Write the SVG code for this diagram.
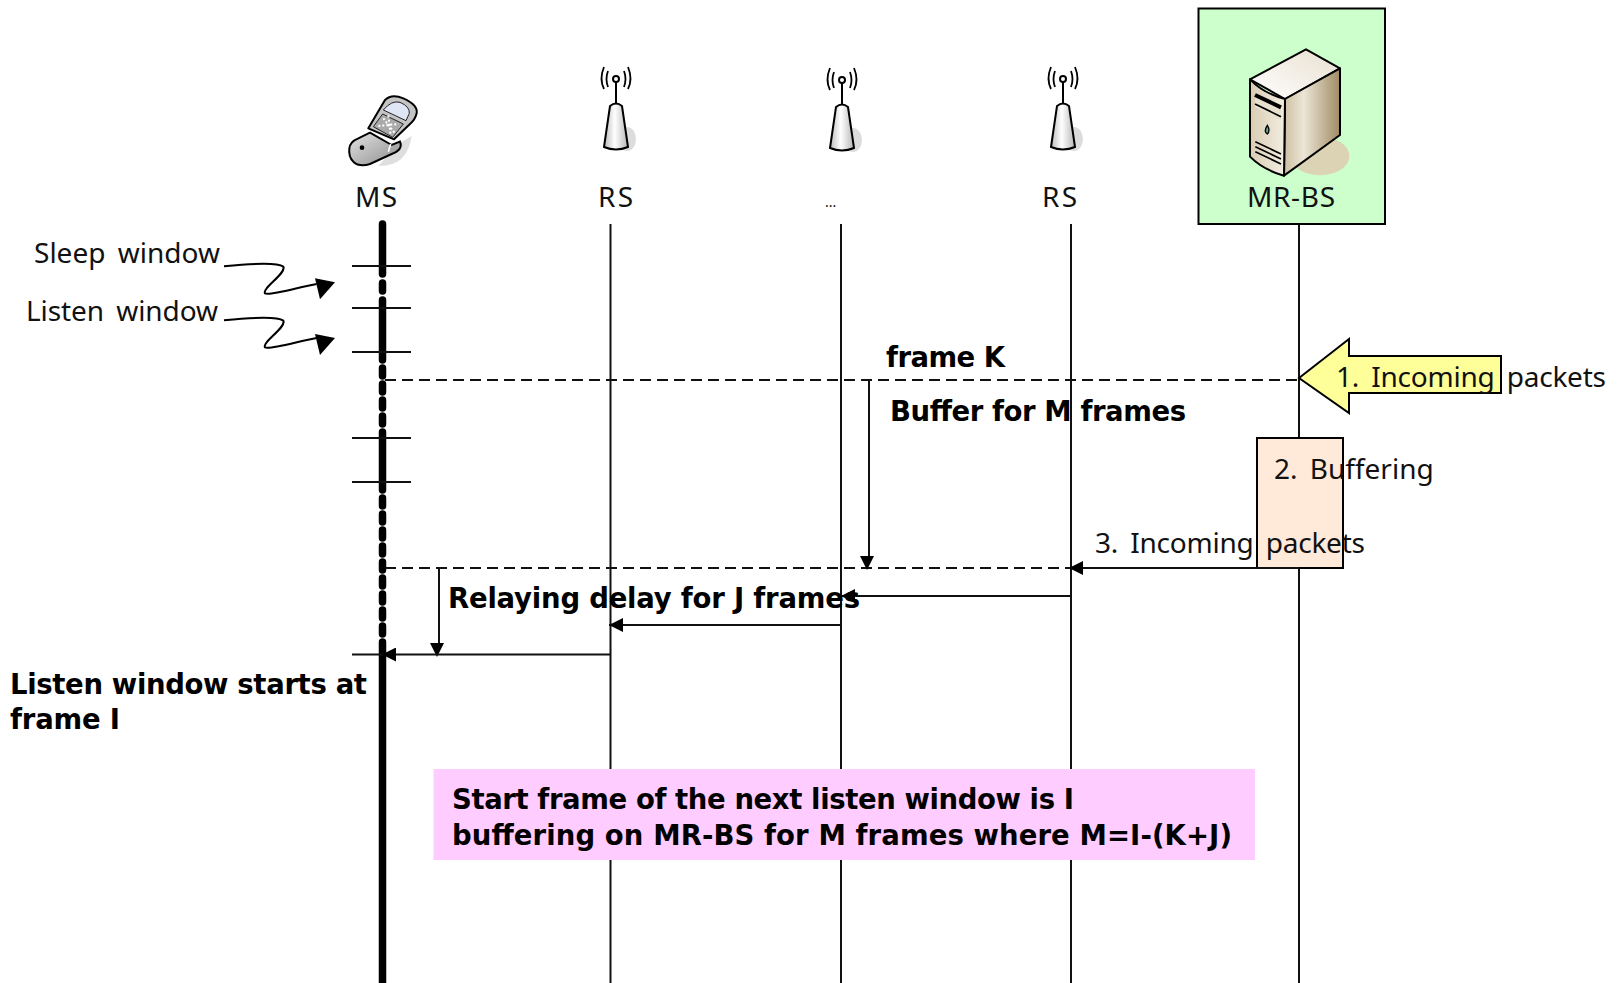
<svg xmlns="http://www.w3.org/2000/svg" xmlns:xlink="http://www.w3.org/1999/xlink" width="1622" height="983" viewBox="0 0 1622 983">
<style>
text{font-family:"Noto Sans","DejaVu Sans",sans-serif;font-size:28px;fill:#111}
.b{font-family:"DejaVu Sans",sans-serif;font-weight:bold;font-size:27.500px;fill:#000}
.l{stroke:#111;stroke-width:2;fill:none}
.d{stroke:#111;stroke-width:2;fill:none;stroke-dasharray:11 6}
.t{stroke:#000;stroke-width:7.500;stroke-linecap:round;fill:none}
.tk{stroke:#111;stroke-width:2;fill:none}
</style>
<defs>
<marker id="ah" viewBox="0 0 14 14" markerWidth="14" markerHeight="14" refX="14" refY="7" orient="auto" markerUnits="userSpaceOnUse"><path d="M0,0L14,7L0,14z" fill="#000"/></marker>
<linearGradient id="ant" x1="0" x2="1" y1="0" y2="0"><stop offset="0" stop-color="#bbb"/><stop offset=".45" stop-color="#fff"/><stop offset="1" stop-color="#b5b5b5"/></linearGradient>
<linearGradient id="srv" x1="0" x2="1" y1="0" y2="0"><stop offset="0" stop-color="#cdbfa2"/><stop offset=".35" stop-color="#ece5d6"/><stop offset="1" stop-color="#a08c64"/></linearGradient>
<linearGradient id="srvf" x1="0" x2="1" y1="0" y2="0"><stop offset="0" stop-color="#d8ccb2"/><stop offset="1" stop-color="#f3eee2"/></linearGradient>
<linearGradient id="srvt" x1="0" x2="1" y1="1" y2="0"><stop offset="0" stop-color="#fff"/><stop offset="1" stop-color="#e8dfcf"/></linearGradient>
<linearGradient id="ph" x1="0" x2="1" y1="0" y2="1"><stop offset="0" stop-color="#e4e4e4"/><stop offset="1" stop-color="#8c8c8c"/></linearGradient>
<g id="antenna">
<ellipse cx="11" cy="-4" rx="9" ry="12" fill="#dcdcdc"/>
<path d="M0,-64L0,-37" stroke="#000" stroke-width="2"/>
<path d="M-6,-37Q0,-42 6,-37L12,4Q0,9 -12,4Z" fill="url(#ant)" stroke="#000" stroke-width="2"/>
<circle cx="0" cy="-64" r="3" fill="#fff" stroke="#000" stroke-width="2"/>
<path d="M-8,-72Q-11,-64 -8,-56M8,-72Q11,-64 8,-56M-12,-76Q-17,-64 -12,-54M12,-76Q17,-64 12,-54" fill="none" stroke="#000" stroke-width="1.800"/>
</g>
</defs>
<rect width="1622" height="983" fill="#fff"/>

<g id="lifelines">
<path class="l" d="M610.500,224V983M841,224V983M1071,224V983M1299,224V983"/>
</g>

<g id="node-ms-timeline">
<path class="t" d="M382.500,224V274"/><path class="t" d="M382.500,283V291"/><path class="t" d="M382.500,300V360"/>
<path class="t" d="M382.500,368V376M382.500,384V392M382.500,400V408M382.500,416V424"/>
<path class="t" d="M382.500,432V490"/>
<path class="t" d="M382.500,498V506M382.500,514V522M382.500,530V538M382.500,546V554M382.500,562V570M382.500,578V586M382.500,594V602M382.500,610V618M382.500,626V634"/>
<path class="t" d="M382.500,642V983"/>
<path class="tk" d="M352,266H411M352,308H411M352,352H411M352,438H411M352,482H411M352,654.500H383"/>
</g>

<g id="node-yellow-arrow"><path d="M1299,378L1349,339V356H1501V393H1349V413Z" fill="#FFFF99" stroke="#000" stroke-width="2"/></g>
<g id="node-buffer"><rect x="1257" y="438" width="86" height="130" fill="#FFE9D9" stroke="#000" stroke-width="2"/></g>
<g id="node-note"><rect x="433.500" y="769" width="821.500" height="91" fill="#FFCCFF"/></g>

<g id="connectors">
<path class="d" d="M385,380H1299"/>
<path class="d" d="M385,568H1071"/>
<path class="l" d="M869,380V562"/>
<path d="M860,556L874,556L867,570Z" fill="#000"/>
<path class="l" d="M439,568V650"/>
<path d="M430,643L444,643L437,657Z" fill="#000"/>
<path class="l" d="M1299,568H1069" marker-end="url(#ah)"/>
<path class="l" d="M1071,596H841" marker-end="url(#ah)"/>
<path class="l" d="M841,625H609" marker-end="url(#ah)"/>
<path class="l" d="M610,654.500H382" marker-end="url(#ah)"/>
<g transform="scale(.33333) translate(0,660)">
<path d="M672,139C740,132 830,125 850,140C860,160 785,205 795,220C810,228 900,200 950,192" fill="none" stroke="#000" stroke-width="6"/>
<path d="M1005,187L945,175L960,238Z" fill="#000"/>
<path d="M672,301C740,294 830,287 850,302C860,322 785,367 795,382C810,390 900,362 950,354" fill="none" stroke="#000" stroke-width="6"/>
<path d="M1005,354L945,342L960,405Z" fill="#000"/>
</g>
</g>

<g id="node-ms">
<g transform="translate(320,50) scale(.33333)">
<path d="M175,348Q262,350 275,258L240,278L200,320Z" fill="#dedede"/>
<path d="M88,295Q90,275 115,265L150,248L215,285L240,275Q250,300 215,312L150,342Q118,352 100,335Q85,320 88,295Z" fill="url(#ph)" stroke="#000" stroke-width="6"/>
<path d="M145,235L195,150Q215,130 250,145Q295,165 290,190Q285,210 270,222L222,268Z" fill="#c4c4c4" stroke="#000" stroke-width="6" stroke-linejoin="round"/>
<path d="M190,180Q215,150 240,157Q270,170 268,190L258,212Z" fill="#dfe6f5" stroke="#222" stroke-width="3"/>
<path d="M188,192L250,222L218,262L160,230Z" fill="#aaa" stroke="#222" stroke-width="3"/>
<path d="M175,228L235,222M190,205L225,250M205,197L212,255" stroke="#fff" stroke-width="6" stroke-dasharray="6 6"/>
<circle cx="126" cy="293" r="7" fill="#000"/>
<path d="M205,305L212,282" stroke="#fff" stroke-width="5"/>
</g>
<text x="355" y="207" textLength="42">MS</text>
</g>
<g id="node-rs1"><use xlink:href="#antenna" href="#antenna" transform="translate(616,143)"/><text x="598" y="207" textLength="35">RS</text></g>
<g id="node-relay"><use xlink:href="#antenna" href="#antenna" transform="translate(842,144)"/><text x="825" y="207" style="font-size:14px">...</text></g>
<g id="node-rs2"><use xlink:href="#antenna" href="#antenna" transform="translate(1063,143)"/><text x="1042" y="207" textLength="35">RS</text></g>
<g id="node-mrbs">
<rect x="1198.500" y="8.500" width="186.500" height="215.500" fill="#CCFFCC" stroke="#000" stroke-width="2"/>
<g transform="translate(1180,0) scale(.33333)">
<ellipse cx="420" cy="468" rx="88" ry="58" fill="#dcd2b4"/>
<path d="M378,148L480,205L315,297L210,238Z" fill="url(#srvt)" stroke="#000" stroke-width="6" stroke-linejoin="round"/>
<path d="M480,205V405L312,527L315,297Z" fill="url(#srv)" stroke="#000" stroke-width="6" stroke-linejoin="round"/>
<path d="M210,238Q250,280 315,297L312,527Q250,510 210,470Z" fill="url(#srvf)" stroke="#000" stroke-width="6" stroke-linejoin="round"/>
<path d="M225,283L303,320V360L225,322Z" fill="#e8e0ce"/>
<path d="M225,285L303,322" stroke="#000" stroke-width="12"/>
<path d="M225,312L303,350" stroke="#000" stroke-width="5"/>
<path d="M226,425L303,462M226,440L303,477M226,455L303,492" stroke="#000" stroke-width="5"/>
<path d="M262,376Q272,392 262,402Q250,394 262,376Z" fill="#6aa890" stroke="#000" stroke-width="4"/>
</g>
<text x="1247" y="207" textLength="88">MR-BS</text>
</g>

<g id="labels">
<text x="34" y="263" textLength="186" lengthAdjust="spacing" word-spacing="5">Sleep window</text>
<text x="26" y="321" textLength="192" lengthAdjust="spacing" word-spacing="5">Listen window</text>
<text x="1336" y="387" textLength="270" lengthAdjust="spacing" word-spacing="5">1. Incoming packets</text>
<text x="1274" y="479" word-spacing="5">2. Buffering</text>
<text x="1095" y="553" textLength="270" lengthAdjust="spacing" word-spacing="5">3. Incoming packets</text>
<text class="b" x="886" y="367" textLength="119">frame K</text>
<text class="b" x="890" y="421" textLength="296">Buffer for M frames</text>
<text class="b" x="448" y="608" textLength="412">Relaying delay for J frames</text>
<text class="b" x="10" y="694" textLength="357">Listen window starts at</text>
<text class="b" x="10" y="729" textLength="110">frame I</text>
<text class="b" x="452" y="809" textLength="622">Start frame of the next listen window is I</text>
<text class="b" x="452" y="845" textLength="780">buffering on MR-BS for M frames where M=I-(K+J)</text>
</g>
</svg>
